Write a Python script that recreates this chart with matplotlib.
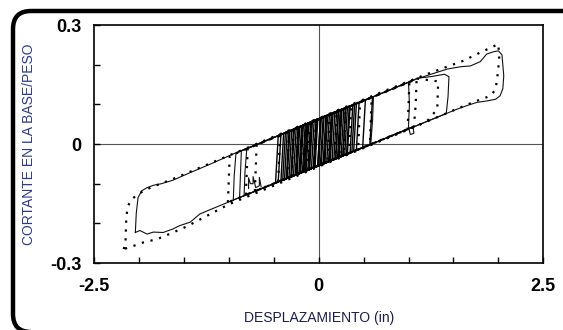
import matplotlib
matplotlib.use("Agg")
import matplotlib.pyplot as plt
from matplotlib.patches import FancyBboxPatch

# outer cycle (solid)
solid_outer_x = [-2.04, -2.03, -2.01, -1.97, -1.91, -1.84, -1.75, -1.62, -1.45, -1.20, -0.91, -0.50,
                 0.00, 0.50, 1.09, 1.25, 1.43, 1.58, 1.69, 1.80, 1.87, 1.95, 2.00, 2.04, 2.06, 2.05,
                 2.02, 1.97, 1.88, 1.76, 1.65, 1.54, 1.00, 0.50, 0.00, -0.50, -1.00, -1.32, -1.43,
                 -1.55, -1.62, -1.73, -1.84, -1.91, -1.99, -2.04]
solid_outer_y = [-0.223, -0.175, -0.135, -0.118, -0.110, -0.104, -0.100, -0.091, -0.074, -0.050,
                 -0.021, 0.017, 0.062, 0.109, 0.164, 0.176, 0.189, 0.195, 0.197, 0.208, 0.227, 0.233,
                 0.235, 0.225, 0.172, 0.140, 0.122, 0.113, 0.109, 0.105, 0.097, 0.088, 0.038, -0.008,
                 -0.054, -0.100, -0.146, -0.176, -0.197, -0.206, -0.214, -0.223, -0.222, -0.227,
                 -0.218, -0.223]

# outer cycle (dotted)
dotted_outer_x = [-2.17, -2.15, -2.14, -2.12, -2.08, -2.03, -1.95, -1.85, -1.60, -1.20, -0.80, -0.40,
                  0.00, 0.40, 0.80, 1.20, 1.61, 1.80, 2.00, 2.01, 1.99, 1.97, 1.93, 1.87, 1.76, 1.67,
                  1.50, 1.00, 0.50, 0.00, -0.50, -1.00, -1.47, -1.62, -1.80, -1.95, -2.10, -2.17]
dotted_outer_y = [-0.265, -0.250, -0.181, -0.155, -0.139, -0.130, -0.118, -0.108, -0.086, -0.048,
                  -0.010, 0.028, 0.065, 0.103, 0.140, 0.176, 0.210, 0.231, 0.252, 0.214, 0.172,
                  0.139, 0.126, 0.118, 0.109, 0.101, 0.085, 0.037, -0.010, -0.057, -0.105, -0.152,
                  -0.208, -0.223, -0.240, -0.248, -0.260, -0.265]

# intermediate cycles (solid)
solid_mid_loops = [
    ([-0.95, -0.94, -0.92, -0.50, 0.00, 0.50, 1.00, 1.10, 1.25, 1.40, 1.45, 1.44, 1.42, 1.00, 0.50, 0.00, -0.50, -0.95],
     [-0.141, -0.080, -0.023, 0.016, 0.062, 0.109, 0.156, 0.166, 0.170, 0.176, 0.170, 0.120, 0.077, 0.038, -0.008, -0.054, -0.100, -0.141]),
    ([-0.88, -0.87, -0.86, -0.40, 0.20, 0.70, 1.00, 1.01, 1.00, 1.02, 1.06, 1.05, 0.60, 0.00, -0.40, -0.88],
     [-0.135, -0.075, -0.017, 0.026, 0.082, 0.128, 0.156, 0.100, 0.045, 0.024, 0.027, 0.044, 0.001, -0.054, -0.091, -0.135]),
    ([-0.83, -0.82, -0.80, -0.30, 0.20, 0.61, 0.60, 0.58, 0.10, -0.40, -0.83],
     [-0.130, -0.070, -0.012, 0.035, 0.081, 0.120, 0.060, 0.000, -0.045, -0.091, -0.130]),
    ([-0.78, -0.78, -0.76, -0.73, -0.73, -0.70, -0.66, -0.66, -0.64],
     [-0.112, -0.085, -0.100, -0.100, -0.082, -0.110, -0.105, -0.084, -0.108]),
]

# small cycles near the origin (solid)
solid_center_loops = [
    ([-0.45, -0.42, 0.38, 0.35, -0.45], [-0.095, 0.024, 0.098, -0.022, -0.095]),
    ([-0.40, -0.37, 0.30, 0.27, -0.40], [-0.091, 0.029, 0.091, -0.029, -0.091]),
    ([-0.35, -0.32, 0.45, 0.42, -0.35], [-0.086, 0.033, 0.105, -0.015, -0.086]),
    ([-0.30, -0.27, 0.25, 0.22, -0.30], [-0.082, 0.038, 0.086, -0.034, -0.082]),
    ([-0.25, -0.22, 0.20, 0.17, -0.25], [-0.077, 0.043, 0.082, -0.038, -0.077]),
    ([-0.20, -0.17, 0.35, 0.32, -0.20], [-0.072, 0.047, 0.096, -0.025, -0.072]),
    ([-0.15, -0.12, 0.15, 0.12, -0.15], [-0.068, 0.052, 0.077, -0.043, -0.068]),
    ([-0.10, -0.07, 0.28, 0.25, -0.10], [-0.063, 0.056, 0.089, -0.031, -0.063]),
    ([-0.05, -0.02, 0.52, 0.49, -0.05], [-0.059, 0.061, 0.111, -0.009, -0.059]),
    ([-0.22, -0.19, 0.60, 0.57, -0.22], [-0.074, 0.045, 0.119, -0.002, -0.074]),
    ([-0.38, -0.35, 0.08, 0.05, -0.38], [-0.089, 0.030, 0.070, -0.049, -0.089]),
    ([-0.28, -0.25, 0.12, 0.09, -0.28], [-0.080, 0.040, 0.074, -0.046, -0.080]),
    ([-0.18, -0.15, 0.05, 0.02, -0.18], [-0.071, 0.049, 0.068, -0.052, -0.071]),
    ([-0.12, -0.09, 0.10, 0.07, -0.12], [-0.065, 0.055, 0.072, -0.048, -0.065]),
    ([-0.08, -0.05, 0.40, 0.37, -0.08], [-0.061, 0.058, 0.100, -0.020, -0.061]),
    ([-0.33, -0.30, 0.03, 0.00, -0.33], [-0.084, 0.035, 0.066, -0.054, -0.084]),
    ([-0.42, -0.39, 0.22, 0.19, -0.42], [-0.093, 0.027, 0.083, -0.037, -0.093]),
    ([-0.26, -0.23, 0.32, 0.29, -0.26], [-0.078, 0.042, 0.093, -0.027, -0.078]),
    ([-0.16, -0.13, 0.42, 0.39, -0.16], [-0.069, 0.051, 0.102, -0.018, -0.069]),
    ([-0.06, -0.03, 0.18, 0.15, -0.06], [-0.060, 0.060, 0.080, -0.040, -0.060]),
    ([-0.36, -0.33, 0.26, 0.23, -0.36], [-0.087, 0.032, 0.087, -0.033, -0.087]),
    ([-0.24, -0.21, 0.06, 0.03, -0.24], [-0.076, 0.043, 0.069, -0.051, -0.076]),
    ([-0.14, -0.11, 0.34, 0.31, -0.14], [-0.067, 0.053, 0.095, -0.025, -0.067]),
    ([-0.04, -0.01, 0.24, 0.21, -0.04], [-0.058, 0.062, 0.085, -0.035, -0.058]),
    ([-0.31, -0.28, 0.16, 0.13, -0.31], [-0.083, 0.037, 0.078, -0.042, -0.083]),
    ([-0.21, -0.18, 0.22, 0.19, -0.21], [-0.073, 0.046, 0.083, -0.037, -0.073]),
    ([-0.11, -0.08, 0.02, -0.01, -0.11], [-0.064, 0.056, 0.065, -0.055, -0.064]),
    ([-0.01, 0.02, 0.30, 0.27, -0.01], [-0.055, 0.065, 0.091, -0.029, -0.055]),
    ([-0.48, -0.45, 0.14, 0.11, -0.48], [-0.098, 0.021, 0.076, -0.044, -0.098]),
    ([-0.17, -0.14, 0.09, 0.06, -0.17], [-0.070, 0.050, 0.071, -0.048, -0.070]),
]

# inner cycles (dotted)
dotted_inner_loops = [
    ([-1.01, -0.99, 1.10, 1.33, 1.32, 1.20, -1.01], [-0.147, -0.030, 0.165, 0.158, 0.088, 0.056, -0.147]),
    ([-0.81, -0.79, 1.09, 1.08, 1.06, -0.81], [-0.128, -0.011, 0.164, 0.100, 0.044, -0.128]),
    ([-0.71, -0.69, 1.01, 0.99, -0.71], [-0.119, -0.001, 0.157, 0.037, -0.119]),
    ([-0.45, -0.43, 0.59, 0.57, -0.45], [-0.095, 0.023, 0.118, -0.002, -0.095]),
    ([-0.30, -0.28, 0.46, 0.44, -0.30], [-0.082, 0.037, 0.106, -0.014, -0.082]),
    ([-0.20, -0.18, 0.30, 0.28, -0.20], [-0.072, 0.046, 0.091, -0.028, -0.072]),
    ([-0.12, -0.10, 0.20, 0.18, -0.12], [-0.065, 0.054, 0.082, -0.037, -0.065]),
    ([-0.35, -0.33, 0.12, 0.10, -0.35], [-0.086, 0.032, 0.074, -0.045, -0.086]),
    ([-0.25, -0.23, 0.36, 0.34, -0.25], [-0.077, 0.042, 0.096, -0.023, -0.077]),
    ([-0.05, -0.03, 0.25, 0.23, -0.05], [-0.059, 0.060, 0.086, -0.033, -0.059]),
]

x_ticks = [-2.5, -2.0, -1.5, -1.0, -0.5, 0.0, 0.5, 1.0, 1.5, 2.0, 2.5]
x_tick_labels = ["-2.5", "", "", "", "", "0", "", "", "", "", "2.5"]
y_ticks = [-0.3, -0.2, -0.1, 0.0, 0.1, 0.2, 0.3]
y_tick_labels = ["-0.3", "", "", "0", "", "", "0.3"]

plt.rcParams["font.family"] = ["Liberation Sans", "DejaVu Sans"]

fig = plt.figure(figsize=(5.63, 3.30), dpi=100)
ax = fig.add_axes([0.167, 0.203, 0.798, 0.721])

# rounded frame around the whole picture
frame = FancyBboxPatch((13, -2), 620, 321, boxstyle="round,pad=0,rounding_size=18",
                       transform=None, fill=False, lw=3.2, ec="black")
fig.patches.append(frame)

ax.axhline(0, color="#555555", lw=0.8, zorder=1)
ax.axvline(0, color="#555555", lw=0.8, zorder=1)

solid_kw = dict(color="#111111", lw=0.8, zorder=3)
dot_kw = dict(color="black", lw=1.6, linestyle=(0, (1, 3)), dash_capstyle="butt", zorder=4)

ax.plot(solid_outer_x, solid_outer_y, **solid_kw)
for lx, ly in solid_mid_loops:
    ax.plot(lx, ly, **solid_kw)
for lx, ly in solid_center_loops:
    ax.plot(lx, ly, color="black", lw=1.0, zorder=3)
ax.plot(dotted_outer_x, dotted_outer_y, **dot_kw)
for lx, ly in dotted_inner_loops:
    ax.plot(lx, ly, **dot_kw)

ax.set_xlim(-2.5, 2.5)
ax.set_ylim(-0.3, 0.3)
ax.set_xticks(x_ticks)
ax.set_xticklabels(x_tick_labels, fontsize=13, fontweight="bold")
ax.set_yticks(y_ticks)
ax.set_yticklabels(y_tick_labels, fontsize=13, fontweight="bold")
ax.tick_params(axis="x", direction="in", length=4, width=1, pad=11)
ax.tick_params(axis="y", direction="in", length=4, width=1, pad=9)
for s in ax.spines.values():
    s.set_linewidth(1.2)

ax.set_xlabel("DESPLAZAMIENTO (in)", fontsize=10, color="#1a1f4a")
ax.xaxis.set_label_coords(0.5, -0.2)
ax.set_ylabel("CORTANTE EN LA BASE/PESO", fontsize=10, color="#2e3a8c")
ax.yaxis.set_label_coords(-0.129, 0.5)

fig.savefig("out.png", dpi=100)
